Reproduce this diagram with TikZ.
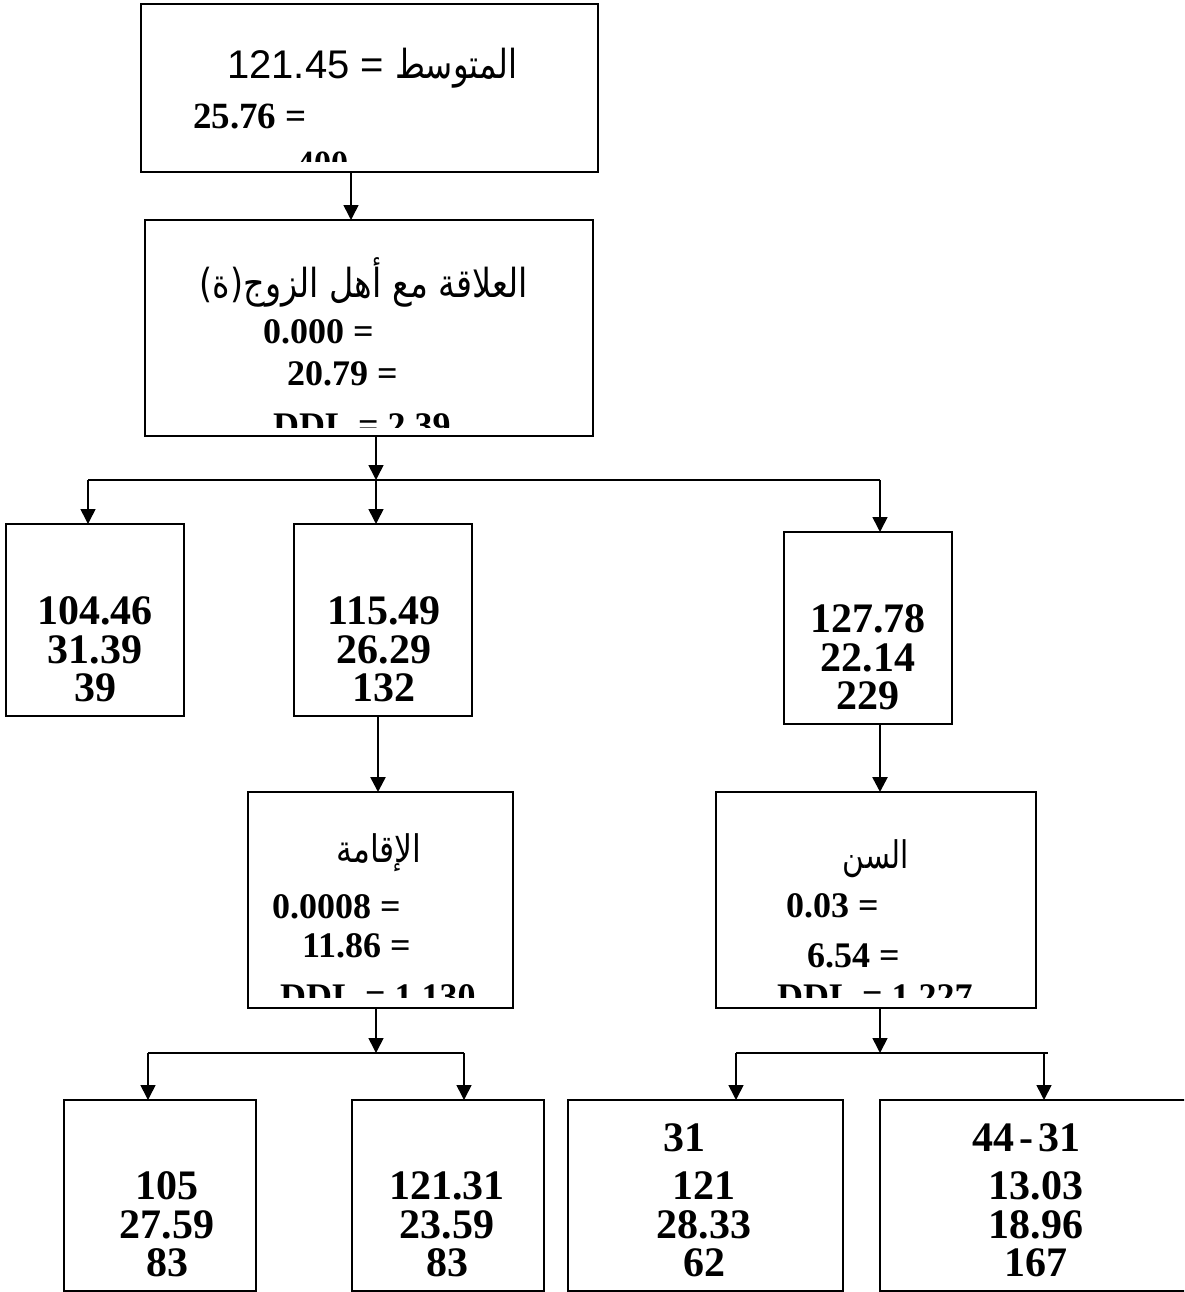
\documentclass[tikz,border=0pt]{standalone}
\usepackage{fontspec}
\setmainfont{Liberation Serif}
\newfontfamily\arialfont{Liberation Sans}
\newfontfamily\arabicfont[Script=Arabic]{DejaVu Sans}
\TeXXeTstate=1
\usetikzlibrary{arrows.meta,fit}

\begin{document}
\begin{tikzpicture}[x=1pt,y=-1pt,
  box/.style={draw,line width=1.6pt,inner sep=0pt,outer sep=0pt},
  stat/.style={font=\fontsize{36}{36}\selectfont\bfseries,anchor=base west,inner sep=0pt},
  val/.style={font=\fontsize{42}{38}\selectfont\bfseries,anchor=base,inner sep=0pt},
  ar/.style={font=\fontsize{38}{38}\selectfont\arabicfont,anchor=base,inner sep=0pt},
  link/.style={line width=1.6pt},
  conn/.style={line width=1.6pt,-{Triangle[width=15pt,length=15pt]}},
  thick conn/.style={conn,line width=2.6pt}]
\clip (0,0) rectangle (1184,1292);
% ---------- boxes ----------
\node[box,fit={(141,4) (598,172)}] (mean) {};
\node[box,fit={(145,220) (593,436)}] (rel) {};
\node[box,fit={(6,524) (184,716)}] (c1) {};
\node[box,fit={(294,524) (472,716)}] (c2) {};
\node[box,fit={(784,532) (952,724)}] (c3) {};
\node[box,fit={(248,792) (513,1008)}] (res) {};
\node[box,fit={(716,792) (1036,1008)}] (age) {};
\node[box,fit={(64,1100) (256,1291)}] (e1) {};
\node[box,fit={(352,1100) (544,1291)}] (e2) {};
\node[box,fit={(568,1100) (843,1291)}] (e3) {};
\node[box,fit={(880,1100) (1200,1291)}] (e4) {};
% ---------- texts of the split boxes (cut at the bottom) ----------
\node[anchor=base west,inner sep=0pt] (meanT) at (227,79)
  {\fontsize{40}{40}\selectfont\arialfont 121.45 = {\arabicfont\scalebox{0.81}[1]{\beginR المتوسط\endR}}};
\node[stat,font=\fontsize{37}{37}\selectfont\bfseries] (meanS) at (193,129) {25.76 =};
\begin{scope}
\clip (141,4) rectangle (598,162);
\node[stat,font=\fontsize{34}{34}\selectfont\bfseries] (meanN) at (297,175) {400};
\end{scope}
\node[ar,font=\fontsize{40}{40}\selectfont\arabicfont] (relT) at (364,297)
  {\scalebox{0.835}[1]{\beginR العلاقة مع أهل الزوج(ة)\endR}};
\node[stat] (relP) at (263,343) {0.000 =};
\node[stat] (relF) at (287,385) {20.79 =};
\begin{scope}
\clip (145,220) rectangle (593,427);
\node[stat] (relD) at (273,437) {DDL = 2.39};
\end{scope}
\node[ar] (resT) at (379,862) {\scalebox{0.83}[1]{\beginR الإقامة\endR}};
\node[stat] (resP) at (272,918) {0.0008 =};
\node[stat] (resF) at (302,957) {11.86 =};
\begin{scope}
\clip (248,792) rectangle (513,997);
\node[stat] (resD) at (280,1008) {DDL = 1.130};
\end{scope}
\node[ar] (ageT) at (876,868) {\scalebox{0.78}[1]{\beginR السن\endR}};
\node[stat] (ageP) at (786,917) {0.03 =};
\node[stat] (ageF) at (807,967) {6.54 =};
\begin{scope}
\clip (716,792) rectangle (1036,997);
\node[stat] (ageD) at (777,1008) {DDL = 1.227};
\end{scope}
% ---------- values ----------
\foreach \n/\x/\y/\a/\b/\c in {c1/95/624/104.46/31.39/39, c2/384/624/115.49/26.29/132,
    c3/868/632/127.78/22.14/229, e1/167/1199/105/27.59/83, e2/447/1199/121.31/23.59/83,
    e3/704/1199/121/28.33/62, e4/1036/1199/13.03/18.96/167}{
  \node[val] (\n a) at (\x,\y) {\a};
  \node[val] (\n b) at (\x,\y+39) {\b};
  \node[val] (\n c) at (\x,\y+77) {\c};}
\node[val,anchor=base west] (e3h) at (663,1151) {31};
\node[val] (e4h) at (1026,1151) {44\kern5pt-\kern5pt31};
% ---------- connectors ----------
\coordinate (cmean) at (351,0);
\draw[conn] (cmean |- mean.south) -- (cmean |- rel.north);
\coordinate (jrel) at (376,480);
\coordinate (lrel) at (88,480);
\coordinate (rrel) at (880,480);
\draw[conn] (jrel |- rel.south) -- (jrel);
\draw[link] (lrel) -- (rrel);
\draw[conn] (lrel) -- (lrel |- c1.north);
\draw[conn] (jrel) -- (jrel |- c2.north);
\draw[conn] (rrel) -- (rrel |- c3.north);
\coordinate (cres) at (378,0);
\coordinate (cage) at (880,0);
\draw[thick conn] (cres |- c2.south) -- (cres |- res.north);
\draw[thick conn] (cage |- c3.south) -- (cage |- age.north);
\coordinate (jres) at (376,1053);
\coordinate (lres) at (148,1053);
\coordinate (rres) at (464,1053);
\draw[conn] (jres |- res.south) -- (jres);
\draw[link] (lres) -- (rres);
\draw[conn] (lres) -- (lres |- e1.north);
\draw[conn] (rres) -- (rres |- e2.north);
\coordinate (jage) at (880,1053);
\coordinate (lage) at (736,1053);
\coordinate (rage) at (1044,1053);
\draw[conn] (jage |- age.south) -- (jage);
\draw[link] (lage) -- ([xshift=4pt]rage);
\draw[conn] (lage) -- (lage |- e3.north);
\draw[conn] (rage) -- (rage |- e4.north);
\end{tikzpicture}
\end{document}
